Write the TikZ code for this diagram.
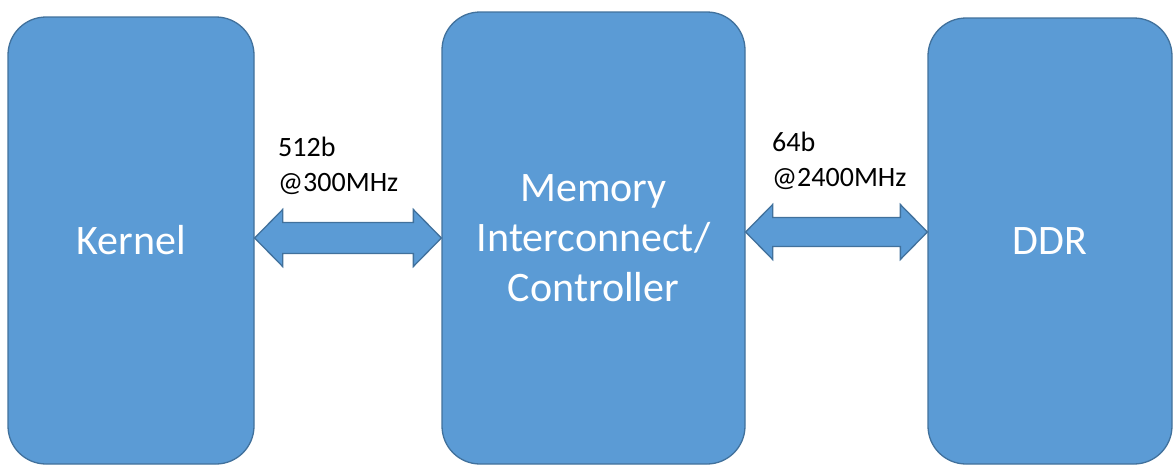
\documentclass[tikz,border=0pt]{standalone}
\usepackage{fontspec}
\setmainfont{Carlito}
\usetikzlibrary{calc}
\definecolor{boxfill}{HTML}{5B9BD5}
\definecolor{boxline}{HTML}{41719C}
\tikzset{
  blk/.style={draw=boxline, line width=1.3pt, fill=boxfill, rounded corners=38pt,
    text=white, align=center, inner sep=0pt, font=\fontsize{42}{50}\selectfont},
  lbl/.style={align=left, inner sep=0pt, anchor=north west, text=black,
    font=\fontsize{28}{35}\selectfont},
  dblarr/.style={draw=boxline, line width=1.3pt, fill=boxfill, line join=miter}
}
\newcommand{\mydblarrow}[5]{% from, to, head length, head half, shaft half
  \filldraw[dblarr] (#1) -- ($(#1)+(#3,-#4)$) -- ($(#1)+(#3,-#5)$) -- ($(#2)+(-#3,-#5)$)
    -- ($(#2)+(-#3,-#4)$) -- (#2) -- ($(#2)+(-#3,#4)$) -- ($(#2)+(-#3,#5)$)
    -- ($(#1)+(#3,#5)$) -- ($(#1)+(#3,#4)$) -- cycle;}
\begin{document}
\begin{tikzpicture}[x=1pt,y=-1pt]
\useasboundingbox (0,0) rectangle (1173,464);
\node[blk, minimum width=246pt, minimum height=447pt] (k) at (131,240.5) {Kernel};
\node[blk, minimum width=303pt, minimum height=452pt] (m) at (593.5,238) {Memory\\Interconnect/\\Controller};
\node[blk, minimum width=244pt, minimum height=446pt] (d) at (1050,241) {DDR};
\coordinate (a1) at (k.east |- 0,238);
\coordinate (a2) at (m.west |- 0,238);
\coordinate (b1) at (m.east |- 0,232);
\coordinate (b2) at (d.west |- 0,232);
\mydblarrow{a1}{a2}{28}{28.5}{15.5}
\mydblarrow{b1}{b2}{27}{27.5}{14.5}
\node[lbl] (l1) at (278,137) {512b\\@300MHz};
\node[lbl] (l2) at (772,132) {64b\\@2400MHz};
\end{tikzpicture}
\end{document}
